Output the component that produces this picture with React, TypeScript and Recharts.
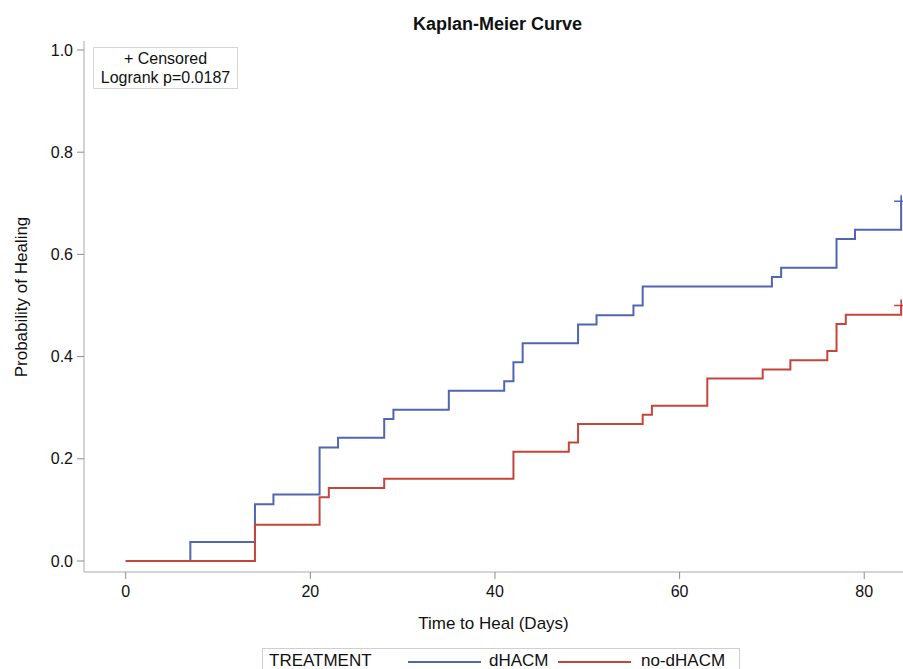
import React from 'react';
import { ComposedChart, Line, XAxis, YAxis } from 'recharts';

const dhacmTime = [0, 7, 14, 16, 21, 23, 28, 29, 35, 41, 42, 43, 49, 51, 55, 56, 70, 71, 77, 79, 84];
const dhacmProb = [0, 0.037, 0.111, 0.13, 0.222, 0.241, 0.278, 0.296, 0.333, 0.352, 0.389, 0.426, 0.463, 0.481, 0.5, 0.537, 0.556, 0.574, 0.63, 0.648, 0.704];
const dhacmCensored = [84];

const nodTime = [0, 14, 21, 22, 28, 42, 48, 49, 56, 57, 63, 69, 72, 76, 77, 78, 84];
const nodProb = [0, 0.071, 0.125, 0.143, 0.161, 0.214, 0.232, 0.268, 0.286, 0.304, 0.357, 0.375, 0.393, 0.411, 0.464, 0.482, 0.5];
const nodCensored = [84];

const xTicks = [0, 20, 40, 60, 80];
const yTicks = [0, 0.2, 0.4, 0.6, 0.8, 1.0];

const BLUE = '#5166b3';
const RED = '#c4463b';
const FONT = '"Liberation Sans", Arial, sans-serif';

const build = (times: number[], probs: number[], cens: number[]) =>
  times.map((t, i) => ({ t, p: probs[i], c: i === times.length - 1 && cens.includes(t) }));

const dhacmData = build(dhacmTime, dhacmProb, dhacmCensored);
const nodData = build(nodTime, nodProb, nodCensored);

const makeDot = (color: string) => (props: any) => {
  const { cx, cy, payload, index } = props;
  if (!payload || !payload.c) return <g key={`d${index}`} />;
  return (
    <path
      key={`d${index}`}
      d={`M${cx - 7},${cy}h14M${cx},${cy - 6}v12`}
      stroke={color}
      strokeWidth={1.6}
      fill="none"
    />
  );
};

const AXIS = '#a9a9a9';
const TICKLINE = '#8c8c8c';

export default function App() {
  return (
    <div style={{ position: 'relative', width: 903, height: 669, fontFamily: FONT, overflow: 'hidden', background: '#fff' }}>
      <style>{`body{margin:0;}`}</style>
      <div style={{ position: 'absolute', left: 88, width: 819, top: 14, textAlign: 'center', fontWeight: 'bold', fontSize: 18, color: '#111' }}>
        Kaplan-Meier Curve
      </div>
      <ComposedChart width={903} height={669} margin={{ top: 41, right: 0, left: 24, bottom: 67 }}>
        <XAxis
          dataKey="t"
          type="number"
          domain={[-4.52, 84.2]}
          ticks={xTicks}
          allowDataOverflow
          height={30}
          tickSize={7}
          tickMargin={7}
          stroke={AXIS}
          tickLine={{ stroke: TICKLINE }}
          tick={{ fill: '#111', fontSize: 16, fontFamily: FONT }}
          label={{ value: 'Time to Heal (Days)', position: 'bottom', offset: 15, fill: '#111', fontSize: 17, fontFamily: FONT }}
        />
        <XAxis
          xAxisId="top"
          orientation="top"
          type="number"
          domain={[-4.52, 84.2]}
          height={0}
          tick={false}
          tickLine={false}
          stroke="#b5b5b5"
        />
        <YAxis
          type="number"
          domain={[-0.0215, 1.0176]}
          ticks={yTicks}
          allowDataOverflow
          width={60}
          tickSize={7}
          tickMargin={4}
          stroke={AXIS}
          tickLine={{ stroke: TICKLINE }}
          tickFormatter={(v: number) => v.toFixed(1)}
          tick={{ fill: '#111', fontSize: 16, fontFamily: FONT }}
          label={(p: any) => (
            <text
              x={21}
              y={297}
              transform="rotate(-90, 21, 297)"
              textAnchor="middle"
              dominantBaseline="central"
              fill="#111"
              fontSize={17}
              fontFamily={FONT}
            >
              Probability of Healing
            </text>
          )}
        />
        <Line
          data={dhacmData}
          dataKey="p"
          type="stepAfter"
          stroke={BLUE}
          strokeWidth={2}
          dot={makeDot(BLUE)}
          activeDot={false}
          isAnimationActive={false}
        />
        <Line
          data={nodData}
          dataKey="p"
          type="stepAfter"
          stroke={RED}
          strokeWidth={2}
          dot={makeDot(RED)}
          activeDot={false}
          isAnimationActive={false}
        />
      </ComposedChart>
      <div
        style={{
          position: 'absolute',
          left: 93,
          top: 47,
          width: 143,
          height: 39,
          border: '1px solid #d6d6d6',
          fontSize: 16,
          color: '#111',
          textAlign: 'center',
          lineHeight: '19px',
          paddingTop: 1,
          whiteSpace: 'nowrap',
        }}
      >
        <div>+ Censored</div>
        <div>Logrank p=0.0187</div>
      </div>
      <div
        style={{
          position: 'absolute',
          left: 262,
          top: 648,
          width: 478,
          height: 30,
          border: '1px solid #cfcfcf',
          fontSize: 17,
          color: '#111',
          display: 'flex',
          alignItems: 'flex-start',
          paddingTop: 2,
          boxSizing: 'border-box',
          whiteSpace: 'nowrap',
        }}
      >
        <span style={{ marginLeft: 6, width: 139, display: 'inline-block' }}>TREATMENT</span>
        <span style={{ display: 'inline-block', width: 73, height: 0, borderTop: `2px solid ${BLUE}`, marginTop: 10 }} />
        <span style={{ marginLeft: 8, width: 69, display: 'inline-block' }}>dHACM</span>
        <span style={{ display: 'inline-block', width: 73, height: 0, borderTop: `2px solid ${RED}`, marginTop: 10 }} />
        <span style={{ marginLeft: 10, display: 'inline-block' }}>no-dHACM</span>
      </div>
    </div>
  );
}
